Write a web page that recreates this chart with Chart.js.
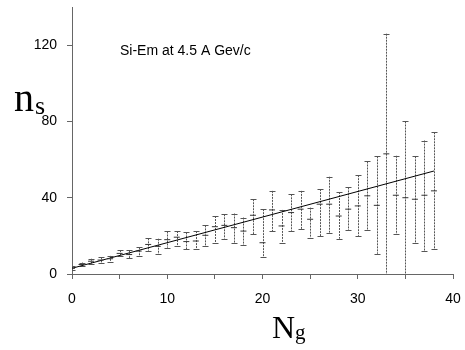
<!DOCTYPE html>
<html>
<head>
<meta charset="utf-8">
<script src="https://cdn.jsdelivr.net/npm/chart.js@4.4.1/dist/chart.umd.min.js"></script>
<style>
  html, body { margin: 0; padding: 0; background: #fff; }
</style>
</head>
<body>
<canvas id="chart" width="465" height="350"></canvas>
<script>
// Ng categories and measured <ns> with lower / upper ends of the error bars
const ng = [0, 1, 2, 3, 4, 5, 6, 7, 8, 9, 10, 11, 12, 13, 14, 15, 16, 17, 18, 19,
            20, 21, 22, 23, 24, 25, 26, 27, 28, 29, 30, 31, 32, 33, 34, 35, 36, 37, 38];
const ns = [3, 5, 6.7, 7.3, 8, 10.8, 10.2, 12, 15.5, 14.5, 18, 19.3, 17, 17.3, 20.3, 24.8, 25.5, 24.3, 22.5, 30.8,
            16.4, 33.6, 25.2, 32.2, 34, 28.7, 36.6, 36.6, 30.4, 34, 35.7, 41, 36, 63, 41.3, 40, 39.2, 41.3, 43.6];
const nsLow = [2, 4, 5.5, 6, 6.5, 9.3, 8.2, 9.4, 12, 10.5, 13.8, 14.6, 12.9, 12.9, 14.6, 16.4, 18.5, 16.4, 15, 20.8,
               9, 22.5, 16.4, 22.5, 23.4, 19, 19.9, 21.7, 18.5, 22.9, 19.9, 22.9, 10.6, 0, 20.8, 0, 16.4, 12, 12.9];
const nsHigh = [4, 6, 8, 8.7, 9.5, 12.5, 12.5, 14, 18.7, 18.5, 22.3, 22.5, 21.8, 22.5, 25.5, 30.4, 31.3, 31.7, 29.6, 39.2,
                34, 43.6, 33.6, 41.8, 43.6, 34.8, 44.5, 51, 43, 45.4, 51.8, 59, 61.7, 126, 62, 80, 61.7, 70, 74.3];

// straight-line fit drawn through the points
const fitNg = [0, 38];
const fitNs = [3, 54];

const xTickValues = [0, 10, 20, 30, 40];
const yTickValues = [0, 40, 80, 120];

const font = 'Arial, "Liberation Sans", sans-serif';
const serif = '"Liberation Serif", "DejaVu Serif", serif';

// error bars with end caps, placed through the chart scales
const errorBars = {
    id: 'errorBars',
    beforeDatasetsDraw(chart) {
        const { ctx, chartArea, scales: { x, y } } = chart;
        ctx.save();
        ctx.beginPath();
        ctx.rect(chartArea.left, chartArea.top - 2, chartArea.width, chartArea.height + 2);
        ctx.clip();
        ctx.strokeStyle = '#555';
        ctx.lineWidth = 1;
        ng.forEach((n, i) => {
            const px = Math.round(x.getPixelForValue(n)) + 0.5;
            const top = y.getPixelForValue(nsHigh[i]);
            const bot = y.getPixelForValue(nsLow[i]);
            // dotted stem, like the scanned original
            ctx.setLineDash([2, 1]);
            ctx.beginPath();
            ctx.moveTo(px, top);
            ctx.lineTo(px, bot);
            ctx.stroke();
            ctx.setLineDash([]);
            ctx.beginPath();
            ctx.moveTo(px - 3, Math.round(top) + 0.5);
            ctx.lineTo(px + 3, Math.round(top) + 0.5);
            ctx.moveTo(px - 3, Math.round(bot) + 0.5);
            ctx.lineTo(px + 3, Math.round(bot) + 0.5);
            ctx.stroke();
        });
        ctx.restore();
    }
};

// annotation and the axis titles with subscripts
const labels = {
    id: 'labels',
    afterDraw(chart) {
        const { ctx } = chart;
        ctx.save();
        ctx.fillStyle = '#000';
        ctx.textBaseline = 'alphabetic';
        ctx.font = '14px ' + font;
        ctx.fillText('Si-Em at 4.5 A Gev/c', 120, 55);

        ctx.font = '40px ' + serif;
        ctx.fillText('n', 14, 111);
        let w = ctx.measureText('n').width;
        ctx.font = '26px ' + serif;
        ctx.fillText('s', 14 + w + 1, 114);

        ctx.font = '32px ' + serif;
        ctx.fillText('N', 272, 338);
        w = ctx.measureText('N').width;
        ctx.font = '21px ' + serif;
        ctx.fillText('g', 272 + w, 339);
        ctx.restore();
    }
};

new Chart(document.getElementById('chart'), {
    type: 'scatter',
    data: {
        datasets: [{
            data: ng.map((n, i) => ({ x: n, y: ns[i] })),
            pointStyle: 'line',
            pointRadius: 3,
            borderColor: '#333',
            borderWidth: 1,
            showLine: false
        }, {
            type: 'line',
            data: fitNg.map((n, i) => ({ x: n, y: fitNs[i] })),
            borderColor: '#000',
            borderWidth: 1,
            pointRadius: 0,
            fill: false
        }]
    },
    options: {
        responsive: false,
        animation: false,
        devicePixelRatio: 1,
        layout: { padding: { left: 0, right: 12, top: 7, bottom: 45 } },
        plugins: { legend: { display: false }, tooltip: { enabled: false } },
        scales: {
            x: {
                type: 'linear',
                min: 0,
                max: 40,
                afterFit: s => { s.height = 31; s.paddingLeft = 0; s.paddingRight = 0; },
                ticks: {
                    stepSize: 5,
                    autoSkip: false,
                    maxRotation: 0,
                    padding: 12,
                    color: '#000',
                    font: { family: font, size: 14 },
                    callback: v => xTickValues.includes(v) ? v : ''
                },
                grid: { drawOnChartArea: false, tickLength: 5, color: '#666' },
                border: { color: '#666', dash: [2, 1] }
            },
            y: {
                min: 0,
                max: 140,
                afterFit: s => { s.width = 72; s.paddingTop = 0; s.paddingBottom = 0; },
                afterBuildTicks: s => { s.ticks = s.ticks.filter(t => yTickValues.includes(t.value)); },
                ticks: {
                    stepSize: 40,
                    padding: 10,
                    color: '#000',
                    font: { family: font, size: 14 }
                },
                grid: { drawOnChartArea: false, tickLength: 5, color: '#666' },
                border: { color: '#666', dash: [2, 1] }
            }
        }
    },
    plugins: [errorBars, labels]
});
</script>
</body>
</html>
